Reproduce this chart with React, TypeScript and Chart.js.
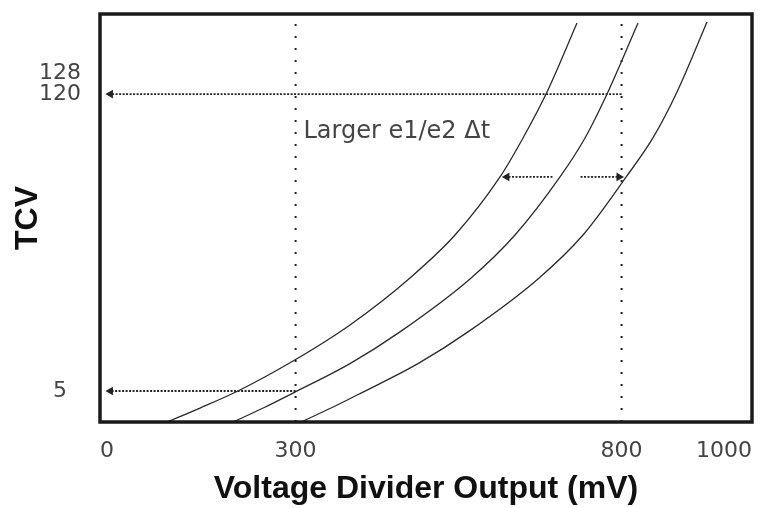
import { useEffect, useRef } from "react";
import { Chart, registerables } from "chart.js";

Chart.register(...registerables);

// ---- data ----
const xTickValues = [0, 300, 800, 1000];
const yTickValues = [5, 120, 128];
const xMin = 0;
const xMax = 1000;
const yMin = -7;
const yMax = 151;

// three TCV curves (voltage divider output mV -> TCV)
const curve1X = [102.8, 153.4, 214.7, 296.0, 383.4, 475.5, 544.5, 613.5, 648.8, 685.6, 731.6];
const curve1Y = [-7, -1.6, 5.4, 16.6, 30.6, 48.8, 65.4, 87.9, 103.0, 120.8, 147.5];
const curve2X = [204.0, 252.0, 296.0, 383.4, 460.1, 567.5, 636.5, 705.5, 743.9, 779.1, 825.2];
const curve2Y = [-7, -1.4, 4.2, 15.6, 27.9, 48.4, 65.4, 87.9, 103.0, 120.8, 147.5];
const curve3X = [308.3, 356.0, 400.3, 487.7, 564.4, 671.8, 740.8, 807.0, 848.0, 885.0, 931.0];
const curve3Y = [-7, -1.4, 4.2, 15.6, 27.9, 48.4, 65.4, 87.9, 103.0, 120.8, 147.9];

// reference lines
const markerVoltages = [300, 800];

// arrows: [fromX, fromY, toX, toY]
const arrow120 = [800, 120, 16, 120];
const arrow5 = [300, 5, 16, 5];
const arrowLeftShift = [694, 87.9, 624, 87.9];
const arrowRightShift = [737, 87.9, 796, 87.9];

const annotationText = "Larger e1/e2 \u0394t";
const annotationPos = [312, 105.5];

const xTitle = "Voltage Divider Output (mV)";
const yTitle = "TCV";

const toPts = (xs: number[], ys: number[]) => xs.map((x, i) => ({ x, y: ys[i] }));

export default function App() {
  const ref = useRef<HTMLCanvasElement | null>(null);

  useEffect(() => {
    if (!ref.current) return;
    const ink = "#222";
    const curveStyle = {
      borderColor: "#2a2a2a",
      borderWidth: 1.3,
      pointRadius: 0,
      showLine: true,
      cubicInterpolationMode: "monotone" as const,
    };
    const arrowDs = (a: number[]) => ({
      data: [
        { x: a[0], y: a[1] },
        { x: a[2], y: a[3] },
      ],
      showLine: true,
      borderColor: ink,
      borderWidth: 1.8,
      borderDash: [2, 1.5],
      pointStyle: "triangle" as const,
      pointRadius: [0, 5],
      pointRotation: [0, a[2] < a[0] ? -90 : 90],
      pointBackgroundColor: ink,
      pointBorderColor: ink,
      pointBorderWidth: 0,
    });
    const vline = (v: number) => ({
      data: [
        { x: v, y: yMin },
        { x: v, y: yMax },
      ],
      showLine: true,
      borderColor: ink,
      borderWidth: 2,
      borderDash: [2, 10],
      pointRadius: 0,
    });

    const framePlugin = {
      id: "frameAndText",
      afterDatasetsDraw(chart: any) {
        const { ctx, chartArea, scales } = chart;
        ctx.save();
        ctx.strokeStyle = "#1a1a1a";
        ctx.lineWidth = 3.5;
        ctx.strokeRect(
          chartArea.left,
          chartArea.top,
          chartArea.right - chartArea.left,
          chartArea.bottom - chartArea.top
        );
        ctx.fillStyle = "#444";
        ctx.font = "24px 'DejaVu Sans'";
        ctx.textAlign = "left";
        ctx.textBaseline = "middle";
        ctx.fillText(
          annotationText,
          scales.x.getPixelForValue(annotationPos[0]),
          scales.y.getPixelForValue(annotationPos[1])
        );
        ctx.restore();
      },
    };

    const zeroPad = (s: any) => {
      s.paddingTop = 0;
      s.paddingBottom = 0;
      s.paddingLeft = 0;
      s.paddingRight = 0;
    };

    const chart = new Chart(ref.current, {
      type: "scatter",
      data: {
        datasets: [
          { data: toPts(curve1X, curve1Y), ...curveStyle },
          { data: toPts(curve2X, curve2Y), ...curveStyle },
          { data: toPts(curve3X, curve3Y), ...curveStyle },
          ...markerVoltages.map(vline),
          arrowDs(arrow120),
          arrowDs(arrow5),
          arrowDs(arrowLeftShift),
          arrowDs(arrowRightShift),
        ] as any,
      },
      options: {
        animation: false,
        responsive: true,
        maintainAspectRatio: false,
        layout: { padding: { top: 14, right: 15, left: 0, bottom: 0 } },
        plugins: { legend: { display: false }, tooltip: { enabled: false } },
        scales: {
          x: {
            type: "linear",
            min: xMin,
            max: xMax,
            afterBuildTicks: (s: any) => {
              s.ticks = xTickValues.map((v) => ({ value: v }));
            },
            afterFit: (s: any) => {
              s.height = 86;
              zeroPad(s);
            },
            grid: { display: false, drawTicks: false },
            border: { display: false },
            ticks: {
              align: "inner",
              padding: 16,
              color: "#444",
              font: { family: "'DejaVu Sans'", size: 22 },
              callback: (v: any) => String(v),
            },
            title: {
              display: true,
              text: xTitle,
              color: "#111",
              font: { family: "'Liberation Sans', Arial", size: 32, weight: "bold" },
              padding: { top: 0, bottom: 0 },
            },
          },
          y: {
            type: "linear",
            min: yMin,
            max: yMax,
            afterBuildTicks: (s: any) => {
              s.ticks = yTickValues.map((v) => ({ value: v }));
            },
            afterFit: (s: any) => {
              s.width = 100;
              zeroPad(s);
            },
            grid: { display: false, drawTicks: false },
            border: { display: false },
            ticks: {
              crossAlign: "center",
              padding: 19,
              color: "#444",
              font: { family: "'DejaVu Sans'", size: 22 },
              callback: (v: any) => String(v),
            },
            title: {
              display: true,
              text: yTitle,
              color: "#111",
              font: { family: "'Liberation Sans', Arial", size: 32, weight: "bold" },
              padding: { top: 9, bottom: 0 },
            },
          },
        },
      } as any,
      plugins: [framePlugin],
    });
    return () => chart.destroy();
  }, []);

  return (
    <div style={{ position: "absolute", left: 0, top: 0, width: 767, height: 508, background: "#fff" }}>
      <canvas ref={ref} />
    </div>
  );
}
